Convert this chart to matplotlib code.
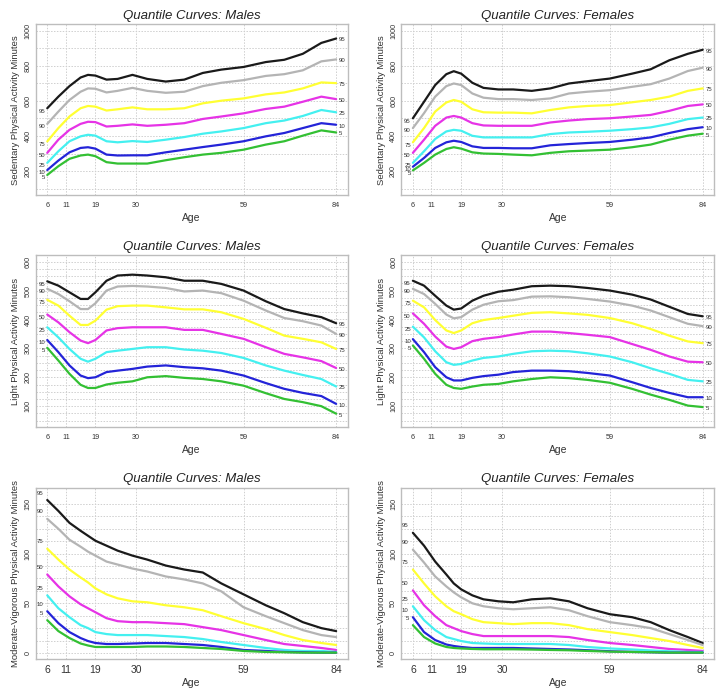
import matplotlib
matplotlib.use("Agg")
import matplotlib.pyplot as plt
import numpy as np

plt.rcParams['font.family'] = ['Liberation Sans', 'DejaVu Sans']

ages = [6, 9, 12, 15, 17, 19, 22, 25, 29, 33, 38, 43, 48, 53, 59, 65, 70, 75, 80, 84]
centiles = ["95", "90", "75", "50", "25", "10", "5"]
colors = ["#1a1a1a", "#b4b4b4", "#ffff33", "#e633e6", "#44f0f0", "#2424d8", "#33c033"]
age_ticks = [6, 11, 19, 30, 59, 84]

sed_m = [
    [558, 624, 684, 733, 748, 744, 721, 725, 748, 725, 710, 721, 759, 778, 793, 821, 834, 868, 930, 955],
    [469, 539, 605, 652, 671, 669, 648, 657, 674, 657, 646, 652, 684, 703, 718, 742, 752, 774, 825, 836],
    [369, 445, 511, 558, 571, 567, 545, 552, 563, 552, 552, 558, 586, 601, 614, 637, 648, 671, 705, 701],
    [304, 379, 435, 469, 481, 479, 454, 458, 466, 458, 464, 473, 497, 511, 529, 554, 567, 595, 624, 610],
    [247, 313, 370, 398, 407, 402, 370, 364, 371, 366, 379, 394, 413, 426, 445, 473, 488, 514, 548, 535],
    [206, 260, 307, 332, 336, 328, 294, 289, 290, 290, 307, 322, 337, 351, 370, 398, 417, 445, 473, 464],
    [178, 228, 270, 289, 294, 285, 251, 243, 243, 243, 262, 279, 294, 304, 322, 351, 370, 402, 432, 420],
]
sed_f = [
    [501, 595, 690, 752, 769, 755, 703, 674, 665, 665, 657, 671, 699, 712, 727, 755, 780, 831, 868, 891],
    [445, 530, 624, 684, 699, 690, 642, 618, 610, 610, 605, 614, 642, 652, 661, 680, 695, 727, 770, 789],
    [364, 445, 539, 591, 605, 595, 552, 535, 533, 533, 529, 548, 563, 571, 576, 592, 605, 624, 657, 671],
    [304, 379, 458, 505, 514, 505, 473, 460, 458, 458, 458, 477, 488, 496, 501, 511, 520, 543, 571, 580],
    [247, 313, 383, 426, 435, 430, 401, 392, 392, 392, 392, 411, 420, 424, 430, 439, 449, 469, 496, 505],
    [225, 275, 332, 364, 373, 366, 341, 332, 332, 330, 330, 347, 354, 360, 366, 379, 392, 417, 439, 450],
    [204, 247, 294, 326, 336, 328, 307, 300, 298, 294, 290, 304, 313, 317, 322, 336, 351, 379, 402, 413],
]
light_m = [
    [532, 517, 494, 471, 471, 494, 534, 552, 555, 552, 546, 534, 534, 523, 500, 463, 436, 421, 408, 387],
    [506, 488, 463, 436, 436, 456, 500, 514, 516, 514, 509, 497, 500, 491, 465, 431, 405, 394, 379, 350],
    [468, 448, 413, 381, 381, 396, 434, 446, 448, 448, 442, 435, 435, 425, 402, 371, 344, 333, 321, 298],
    [417, 390, 356, 327, 318, 329, 362, 370, 373, 373, 373, 364, 364, 350, 333, 304, 281, 269, 256, 232],
    [373, 338, 298, 264, 254, 264, 287, 292, 298, 304, 304, 296, 292, 284, 267, 241, 223, 208, 194, 168],
    [329, 287, 241, 206, 197, 200, 218, 223, 229, 237, 241, 235, 231, 223, 206, 180, 160, 146, 135, 108],
    [302, 258, 212, 174, 163, 163, 175, 181, 186, 200, 204, 198, 194, 186, 171, 145, 125, 114, 100, 74],
]
light_f = [
    [534, 517, 482, 448, 434, 438, 465, 482, 496, 503, 515, 517, 515, 509, 500, 486, 469, 444, 419, 411],
    [506, 488, 454, 417, 404, 408, 434, 451, 463, 467, 479, 480, 477, 471, 462, 448, 431, 408, 385, 377],
    [465, 442, 398, 362, 353, 362, 387, 398, 405, 413, 423, 425, 421, 416, 405, 387, 367, 344, 324, 318],
    [421, 385, 341, 306, 298, 304, 325, 333, 339, 348, 358, 358, 353, 347, 339, 315, 295, 272, 254, 252],
    [375, 338, 290, 252, 243, 246, 258, 267, 272, 281, 290, 292, 290, 283, 272, 252, 231, 212, 191, 186],
    [332, 287, 235, 200, 189, 189, 198, 204, 209, 218, 223, 223, 221, 215, 206, 183, 163, 146, 131, 131],
    [310, 264, 212, 174, 163, 160, 168, 174, 177, 186, 194, 200, 197, 191, 181, 160, 140, 122, 102, 97],
]
mvpa_m = [
    [154, 143, 131, 123, 118, 113, 108, 103, 98, 94, 88, 84, 81, 70, 59, 48, 40, 31, 25, 22],
    [135, 125, 114, 107, 102, 98, 92, 89, 85, 82, 77, 74, 70, 62, 46, 37, 30, 23, 18, 16],
    [105, 94, 84, 76, 71, 65, 59, 55, 52, 51, 48, 46, 43, 37, 30, 24, 18, 13, 10, 8],
    [79, 67, 57, 49, 45, 41, 35, 32, 31, 31, 30, 29, 26, 23, 18, 13, 9, 7, 5, 3],
    [58, 45, 36, 28, 25, 21, 19, 18, 18, 18, 17, 16, 14, 11, 8, 5, 3, 2, 2, 1],
    [42, 30, 21, 15, 12, 10, 9, 9, 9.5, 10, 10, 9, 8, 6, 3, 2, 1, 0.7, 0.3, 0.3],
    [33, 22, 15, 9.5, 7.5, 6, 6, 6, 6, 6.5, 6.5, 6, 5, 4, 2, 1, 0.7, 0.3, 0.3, 0.3],
]
mvpa_f = [
    [121, 108, 92, 79, 70, 64, 58, 54, 52, 51, 54, 55, 52, 45, 39, 36, 31, 23, 16, 10],
    [104, 91, 77, 67, 61, 56, 50, 47, 45, 44, 45, 46, 43, 37, 31, 28, 25, 19, 13, 8],
    [84, 70, 57, 47, 42, 39, 34, 31, 30, 29, 30, 30, 28, 24, 21, 18, 15, 12, 8, 5],
    [63, 48, 37, 28, 25, 22, 19, 17, 17, 17, 17, 17, 16, 13, 10, 8, 6, 4, 3, 2],
    [47, 33, 23, 16, 14, 12, 10, 9.5, 9, 9, 9, 9, 8, 6, 4.5, 3.5, 2.5, 1.7, 1, 1],
    [36, 21, 13, 8.5, 7, 6, 5, 5, 5, 5, 4.5, 4, 3.5, 2.7, 1.7, 1, 0.7, 0.3, 0.3, 0.3],
    [28, 16, 9.5, 6, 5, 4.5, 4, 3.7, 3.7, 3.7, 3.4, 3, 2.7, 2, 1.3, 1, 0.7, 0.3, 0.3, 0.3],
]

panels = [
    dict(data=sed_m, title="Quantile Curves: Males", ylabel="Sedentary Physical Activity Minutes",
         ylim=(100, 1000), yticks=[200, 400, 600, 800, 1000], grid_step=100, right=True, left_above=False),
    dict(data=sed_f, title="Quantile Curves: Females", ylabel="Sedentary Physical Activity Minutes",
         ylim=(100, 1000), yticks=[200, 400, 600, 800, 1000], grid_step=100, right=True, left_above=False),
    dict(data=light_m, title="Quantile Curves: Males", ylabel="Light Physical Activity Minutes",
         ylim=(50, 600), yticks=[100, 200, 300, 400, 500, 600], grid_step=25, right=True, left_above=False),
    dict(data=light_f, title="Quantile Curves: Females", ylabel="Light Physical Activity Minutes",
         ylim=(50, 600), yticks=[100, 200, 300, 400, 500, 600], grid_step=25, right=True, left_above=False),
    dict(data=mvpa_m, title="Quantile Curves: Males", ylabel="Moderate-Vigorous Physical Activity Minutes",
         ylim=(0, 160), yticks=[0, 50, 100, 150], grid_step=12.5, right=False, left_above=True),
    dict(data=mvpa_f, title="Quantile Curves: Females", ylabel="Moderate-Vigorous Physical Activity Minutes",
         ylim=(0, 160), yticks=[0, 50, 100, 150], grid_step=12.5, right=False, left_above=True),
]

W, H = 724, 694
fig = plt.figure(figsize=(W / 100, H / 100), dpi=100)

col_x = [35.7, 401.3]
col_w = [312, 313]
row_top = [24.3, 255.3, 487.7]
row_bot = [195, 427, 659.3]

for i, p in enumerate(panels):
    r, c = divmod(i, 2)
    ax = fig.add_axes([col_x[c] / W, 1 - row_bot[r] / H, col_w[c] / W, (row_bot[r] - row_top[r]) / H])
    lo, hi = p["ylim"]
    ext = (hi - lo) * 0.04
    ax.set_ylim(lo - ext, hi + ext)
    ax.set_xlim(6 - 78 * 0.04, 84 + 78 * 0.04)
    # grid
    for gx in age_ticks:
        ax.axvline(gx, color="#cfcfcf", lw=0.7, ls=(0, (1.5, 1.5)), zorder=0)
    gy = lo
    while gy <= hi + 1e-9:
        ax.axhline(gy, color="#cfcfcf", lw=0.7, ls=(0, (1.5, 1.5)), zorder=0)
        gy += p["grid_step"]
    for k, (vals, col) in enumerate(zip(p["data"], colors)):
        ax.plot(ages, vals, color=col, lw=1.6, solid_joinstyle="round", solid_capstyle="round", zorder=2)
        if p["left_above"]:
            ax.annotate(centiles[k], (ages[0], vals[0]), xytext=(-3, 5), textcoords="offset points",
                        ha="right", va="center", fontsize=4.3, color="#333333")
        else:
            ax.annotate(centiles[k], (ages[0], vals[0]), xytext=(-1.5, -2), textcoords="offset points",
                        ha="right", va="center", fontsize=4.3, color="#333333")
        if p["right"]:
            ax.annotate(centiles[k], (ages[-1], vals[-1]), xytext=(2, -1), textcoords="offset points",
                        ha="left", va="center", fontsize=4.3, color="#333333")
    for s in ax.spines.values():
        s.set_color("#bdbdbd")
        s.set_linewidth(1.0)
    ax.set_xticks(age_ticks)
    ax.set_yticks(p["yticks"])
    xfs = 7.5 if r == 2 else 5.2
    ax.tick_params(axis="x", length=0, pad=4 if r == 2 else 5, labelsize=xfs, labelcolor="#333333")
    ax.tick_params(axis="y", length=0, pad=3, labelsize=5.2, labelcolor="#333333")
    for lab in ax.get_yticklabels():
        lab.set_rotation(90)
        lab.set_va("center")
    ax.set_title(p["title"], fontsize=9.5, style="italic", color="#222222", pad=4)
    ax.set_xlabel("Age", fontsize=7.5, color="#333333", labelpad=2 if r == 2 else 3)
    ax.set_ylabel(p["ylabel"], fontsize=6.8, color="#333333", labelpad=3)

fig.savefig("out.png", dpi=100)
